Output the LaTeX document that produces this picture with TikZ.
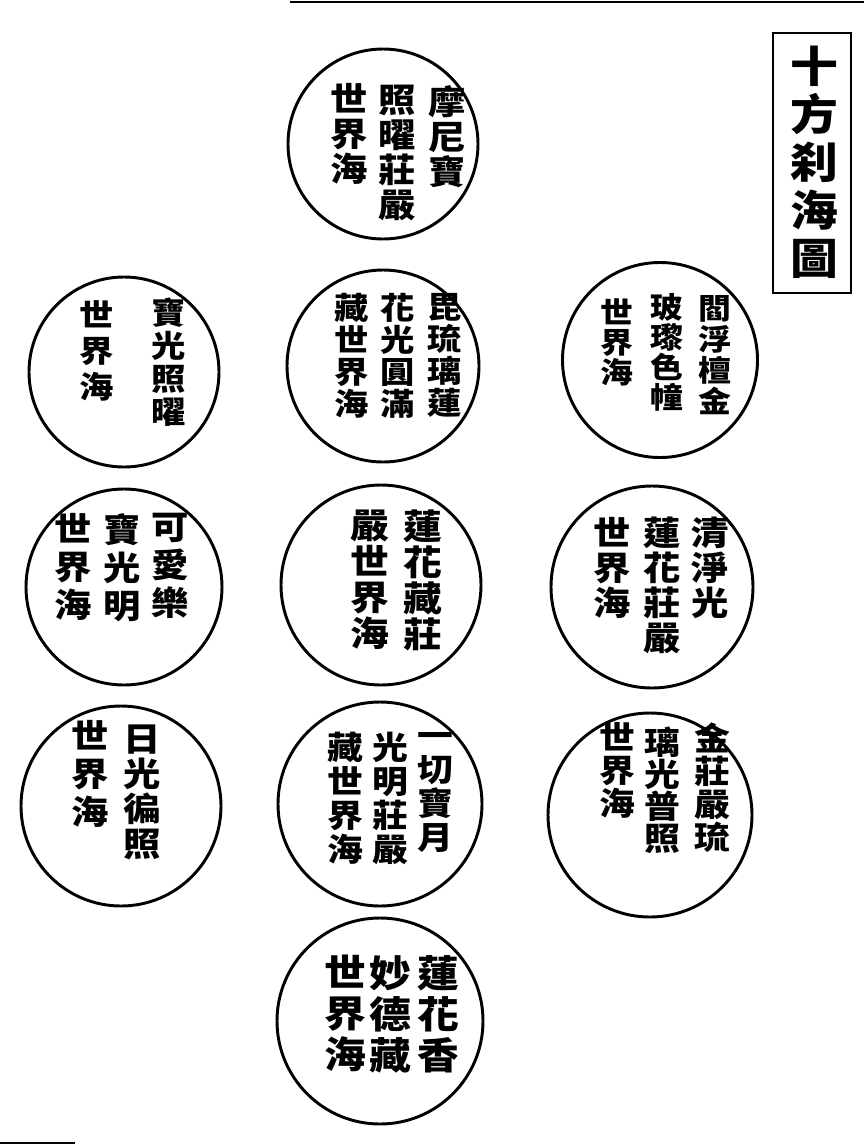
\documentclass[tikz,border=0pt]{standalone}
\usepackage{fontspec}
\newfontfamily\cjk{Noto Sans CJK TC}[FakeStretch=1.12]
\tikzset{
  circ/.style={draw, circle, line width=2.2pt, inner sep=0pt, minimum size=#1},
  colm/.style 2 args={align=center, inner sep=0pt, anchor=north,
    font=\cjk\bfseries\fontsize{#1}{#2}\selectfont},
  rule/.style={line width=1.2pt}
}
\begin{document}
\begin{tikzpicture}[x=0.75pt,y=-0.75pt]
\useasboundingbox (0,0) rectangle (864,1146);
% page lines
\coordinate (tl1) at (290,2); \coordinate (tl2) at (864,2);
\coordinate (bl1) at (0,1143); \coordinate (bl2) at (75,1143);
\draw[rule] (tl1) -- (tl2);
\draw[rule] (bl1) -- (bl2);
% title
\node[draw, line width=2pt, minimum width=58.5pt, minimum height=195pt, inner sep=0pt] (title) at (812,163) {};
\node[colm={32}{36}] (titlet) at (814,46) {十\\方\\刹\\海\\圖};
% circles
\node[circ=142.5pt] (c1) at (383,144) {};
\node[circ=142.5pt] (c2) at (124,372) {};
\node[circ=144pt] (c3) at (383,366) {};
\node[circ=146.25pt] (c4) at (660,360) {};
\node[circ=147pt] (c5) at (124,587) {};
\node[circ=150pt] (c6) at (381,585) {};
\node[circ=151.5pt] (c7) at (652,587) {};
\node[circ=150pt] (c8) at (121,806) {};
\node[circ=153pt] (c9) at (380,804) {};
\node[circ=153pt] (c10) at (650,815) {};
\node[circ=154.5pt] (c11) at (380,1021) {};
% texts
\node[colm={25}{26.25}] (t1a) at (447,85) {摩\\尼\\寶};
\node[colm={25}{26.25}] (t1b) at (397,85) {照\\曜\\莊\\嚴};
\node[colm={25}{26.25}] (t1c) at (349,83) {世\\界\\海};

\node[colm={23}{24.75}] (t2a) at (169,298) {寶\\光\\照\\曜};
\node[colm={23}{27}] (t2b) at (97,300) {世\\界\\海};

\node[colm={23}{24}] (t3a) at (445,293) {毘\\琉\\璃\\蓮};
\node[colm={23}{24}] (t3b) at (398,293) {花\\光\\圓\\滿};
\node[colm={23}{24}] (t3c) at (352,293) {藏\\世\\界\\海};

\node[colm={22}{23.25}] (t4a) at (715,295) {閻\\浮\\檀\\金};
\node[colm={22}{22.5}] (t4b) at (667,293) {玻\\瓈\\色\\幢};
\node[colm={22}{22.5}] (t4c) at (617,298) {世\\界\\海};

\node[colm={25}{28.5}] (t5a) at (170,513) {可\\愛\\樂};
\node[colm={25}{28.5}] (t5b) at (122,513) {寶\\光\\明};
\node[colm={25}{28.5}] (t5c) at (73,513) {世\\界\\海};

\node[colm={26}{27}] (t6a) at (423,510) {蓮\\花\\藏\\莊};
\node[colm={26}{27}] (t6b) at (370,510) {嚴\\世\\界\\海};

\node[colm={25}{26.25}] (t7a) at (710,517) {清\\淨\\光};
\node[colm={25}{26.25}] (t7b) at (662,517) {蓮\\花\\莊\\嚴};
\node[colm={25}{26.25}] (t7c) at (612,517) {世\\界\\海};

\node[colm={25}{26.25}] (t8a) at (142,725) {日\\光\\徧\\照};
\node[colm={25}{28.5}] (t8b) at (90,720) {世\\界\\海};

\node[colm={24}{25.5}] (t9a) at (435,732) {一\\切\\寶\\月};
\node[colm={24}{25.5}] (t9b) at (390,732) {光\\明\\莊\\嚴};
\node[colm={24}{25.5}] (t9c) at (345,732) {藏\\世\\界\\海};

\node[colm={24}{24.75}] (t10a) at (712,722) {金\\莊\\嚴\\琉};
\node[colm={24}{24}] (t10b) at (662,727) {璃\\光\\普\\照};
\node[colm={24}{24.75}] (t10c) at (617,722) {世\\界\\海};

\node[colm={28}{30.75}] (t11a) at (438,955) {蓮\\花\\香};
\node[colm={28}{30.75}] (t11b) at (390,955) {妙\\德\\藏};
\node[colm={28}{30.75}] (t11c) at (345,955) {世\\界\\海};
\end{tikzpicture}
\end{document}
